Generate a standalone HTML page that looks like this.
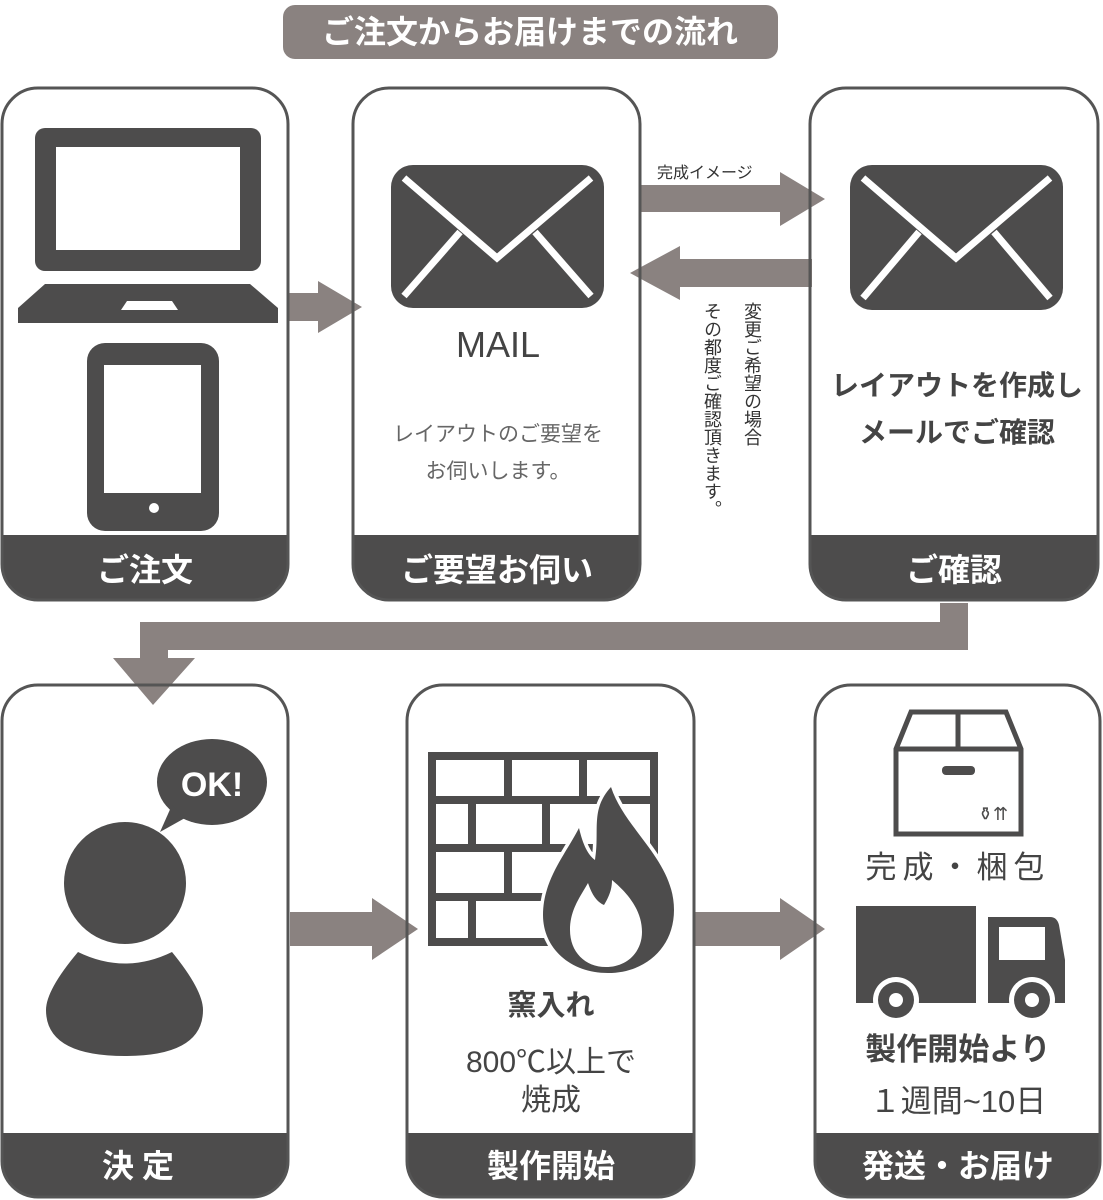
<!DOCTYPE html>
<html><head><meta charset="utf-8"><style>
html,body{margin:0;padding:0;background:#fff}
svg{display:block}
text{font-family:"Liberation Sans","Noto Sans CJK JP",sans-serif}
</style></head><body>
<svg width="1103" height="1200" viewBox="0 0 1103 1200" xmlns="http://www.w3.org/2000/svg">
<defs>
<clipPath id="c1"><rect x="2" y="88" width="286" height="512" rx="36"/></clipPath>
<clipPath id="c2"><rect x="353" y="88" width="287" height="512" rx="36"/></clipPath>
<clipPath id="c3"><rect x="810" y="88" width="288" height="512" rx="36"/></clipPath>
<clipPath id="c4"><rect x="2" y="685" width="286" height="512" rx="36"/></clipPath>
<clipPath id="c5"><rect x="407" y="685" width="287" height="512" rx="36"/></clipPath>
<clipPath id="c6"><rect x="815" y="685" width="285" height="512" rx="36"/></clipPath>
</defs>
<!-- title -->
<rect x="283" y="5" width="495" height="54" rx="12" fill="#8a8280"/>
<text x="530" y="43" font-size="32" font-weight="bold" fill="#fff" text-anchor="middle">ご注文からお届けまでの流れ</text>

<!-- arrows -->
<g fill="#8a8280">
<polygon points="288,293 318,293 318,281 362,307 318,333 318,321 288,321"/>
<polygon points="641,185 780,185 780,172 825,199 780,226 780,212 641,212"/>
<polygon points="812,259 680,259 680,246 630,273 680,300 680,287 812,287"/>
<polygon points="940,603 968,603 968,650 168,650 168,658 195,658 153,705 113,658 140,658 140,622 940,622"/>
<polygon points="290,912 372,912 372,898 418,929 372,960 372,946 290,946"/>
<polygon points="694,912 780,912 780,898 825,929 780,960 780,946 694,946"/>
</g>
<text x="657" y="178" font-size="16" fill="#333">完成イメージ</text>
<text x="752" y="302" font-size="18" fill="#333" style="writing-mode:vertical-rl;glyph-orientation-vertical:0">変更ご希望の場合</text>
<text x="712" y="302" font-size="18" fill="#333" style="writing-mode:vertical-rl;glyph-orientation-vertical:0">その都度ご確認頂きます。</text>

<!-- cards -->
<g fill="#4d4c4c">
<rect x="0" y="535" width="300" height="70" clip-path="url(#c1)"/>
<rect x="350" y="535" width="300" height="70" clip-path="url(#c2)"/>
<rect x="805" y="535" width="300" height="70" clip-path="url(#c3)"/>
<rect x="0" y="1133" width="300" height="70" clip-path="url(#c4)"/>
<rect x="400" y="1133" width="300" height="70" clip-path="url(#c5)"/>
<rect x="810" y="1133" width="300" height="70" clip-path="url(#c6)"/>
</g>
<g fill="none" stroke="#555" stroke-width="3">
<rect x="2" y="88" width="286" height="512" rx="36"/>
<rect x="353" y="88" width="287" height="512" rx="36"/>
<rect x="810" y="88" width="288" height="512" rx="36"/>
<rect x="2" y="685" width="286" height="512" rx="36"/>
<rect x="407" y="685" width="287" height="512" rx="36"/>
<rect x="815" y="685" width="285" height="512" rx="36"/>
</g>
<g font-size="32" fill="#fff" text-anchor="middle" font-weight="bold">
<text x="145" y="581">ご注文</text>
<text x="497" y="581">ご要望お伺い</text>
<text x="954" y="581">ご確認</text>
<text x="142" y="1177" letter-spacing="8">決定</text>
<text x="551" y="1177">製作開始</text>
<text x="958" y="1177">発送・お届け</text>
</g>

<!-- card1 icons -->
<g fill="#4d4c4c">
<rect x="35" y="128" width="226" height="143" rx="10"/>
<polygon points="45,284 250,284 278,308 278,323 18,323 18,308"/>
<rect x="87" y="343" width="132" height="188" rx="18"/>
</g>
<rect x="56" y="147" width="184" height="103" fill="#fff"/>
<polygon points="127,301 172,301 178,310 121,310" fill="#fff"/>
<rect x="104" y="365" width="97" height="128" fill="#fff"/>
<circle cx="154" cy="508" r="5" fill="#fff"/>

<!-- card2 -->
<rect x="391" y="165" width="213" height="143" rx="22" fill="#4d4c4c"/>
<polyline points="404,178 497,258 591,178" fill="none" stroke="#fff" stroke-width="7"/>
<line x1="404" y1="296" x2="460" y2="232" stroke="#fff" stroke-width="7"/>
<line x1="591" y1="296" x2="535" y2="232" stroke="#fff" stroke-width="7"/>
<text x="498" y="357" font-size="36" fill="#444" text-anchor="middle">MAIL</text>
<text x="498" y="441" font-size="21" fill="#666" text-anchor="middle">レイアウトのご要望を</text>
<text x="498" y="478" font-size="21" fill="#666" text-anchor="middle">お伺いします。</text>

<!-- card3 -->
<rect x="850" y="165" width="213" height="145" rx="22" fill="#4d4c4c"/>
<polyline points="863,178 956,258 1050,178" fill="none" stroke="#fff" stroke-width="7"/>
<line x1="863" y1="298" x2="919" y2="232" stroke="#fff" stroke-width="7"/>
<line x1="1050" y1="298" x2="994" y2="232" stroke="#fff" stroke-width="7"/>
<text x="957" y="395" font-size="28" font-weight="bold" fill="#444" text-anchor="middle">レイアウトを作成し</text>
<text x="957" y="442" font-size="28" font-weight="bold" fill="#444" text-anchor="middle">メールでご確認</text>

<!-- card4 -->
<g fill="#4d4c4c">
<ellipse cx="212" cy="782" rx="55" ry="43"/>
<polygon points="172,805 160,832 185,818"/>
<circle cx="125" cy="883" r="61"/>
<path d="M78,952 Q125,975 172,952 Q203,990 203,1010 Q203,1056 125,1056 Q46,1056 46,1010 Q46,990 78,952Z"/>
</g>
<text x="212" y="796" font-size="34" font-weight="bold" fill="#fff" text-anchor="middle">OK!</text>

<!-- card5 brick wall -->
<g stroke="#4d4c4c" stroke-width="8" fill="none">
<rect x="432" y="756" width="222" height="186"/>
<line x1="432" y1="800" x2="654" y2="800"/>
<line x1="432" y1="848" x2="654" y2="848"/>
<line x1="432" y1="897" x2="654" y2="897"/>
<line x1="508" y1="756" x2="508" y2="800"/>
<line x1="583" y1="756" x2="583" y2="800"/>
<line x1="472" y1="800" x2="472" y2="848"/>
<line x1="546" y1="800" x2="546" y2="848"/>
<line x1="508" y1="848" x2="508" y2="897"/>
<line x1="583" y1="848" x2="583" y2="897"/>
<line x1="472" y1="897" x2="472" y2="942"/>
</g>
<path d="M608,973 C570,973 543,948 543,915 C543,880 565,855 579,828 C583,845 588,855 595,860 C600,830 590,810 611,787 C625,830 674,860 674,910 C674,948 645,973 608,973Z" fill="#4d4c4c" stroke="#fff" stroke-width="7" paint-order="stroke"/>
<path d="M606,967 C585,967 570,952 570,930 C570,910 580,897 588,883 C592,895 597,902 604,905 C610,895 612,888 612,880 C630,895 642,912 642,932 C642,952 627,967 606,967Z" fill="#fff"/>
<text x="551" y="1015" font-size="29" font-weight="bold" fill="#444" text-anchor="middle">窯入れ</text>
<text x="551" y="1072" font-size="30" fill="#444" text-anchor="middle">800℃以上で</text>
<text x="551" y="1110" font-size="30" fill="#444" text-anchor="middle">焼成</text>

<!-- card6 -->
<g stroke="#4d4c4c" stroke-width="5" fill="none">
<polygon points="911,712 1006,712 1021,749 1021,834 896,834 896,749"/>
<line x1="896" y1="749" x2="1021" y2="749"/>
<line x1="958" y1="712" x2="958" y2="749"/>
</g>
<rect x="942" y="766" width="33" height="9" rx="4" fill="#4d4c4c"/>
<text x="993" y="820" font-size="18" fill="#4d4c4c" text-anchor="middle">⚱⇈</text>
<text x="958" y="878" font-size="31" fill="#444" text-anchor="middle" letter-spacing="6">完成・梱包</text>
<g fill="#4d4c4c">
<rect x="856" y="906" width="120" height="97"/>
<path d="M988,917 L1050,917 Q1057,917 1059,925 L1065,960 L1065,1003 L988,1003Z"/>
</g>
<rect x="999" y="927" width="46" height="33" fill="#fff"/>
<g>
<circle cx="896" cy="1000" r="23" fill="#fff"/>
<circle cx="896" cy="1000" r="18" fill="#4d4c4c"/>
<circle cx="896" cy="1000" r="7" fill="#fff"/>
<circle cx="1032" cy="1000" r="23" fill="#fff"/>
<circle cx="1032" cy="1000" r="18" fill="#4d4c4c"/>
<circle cx="1032" cy="1000" r="7" fill="#fff"/>
</g>
<text x="958" y="1060" font-size="31" font-weight="bold" fill="#444" text-anchor="middle">製作開始より</text>
<text x="958" y="1112" font-size="31" fill="#444" text-anchor="middle">１週間~10日</text>
</svg>
</body></html>
